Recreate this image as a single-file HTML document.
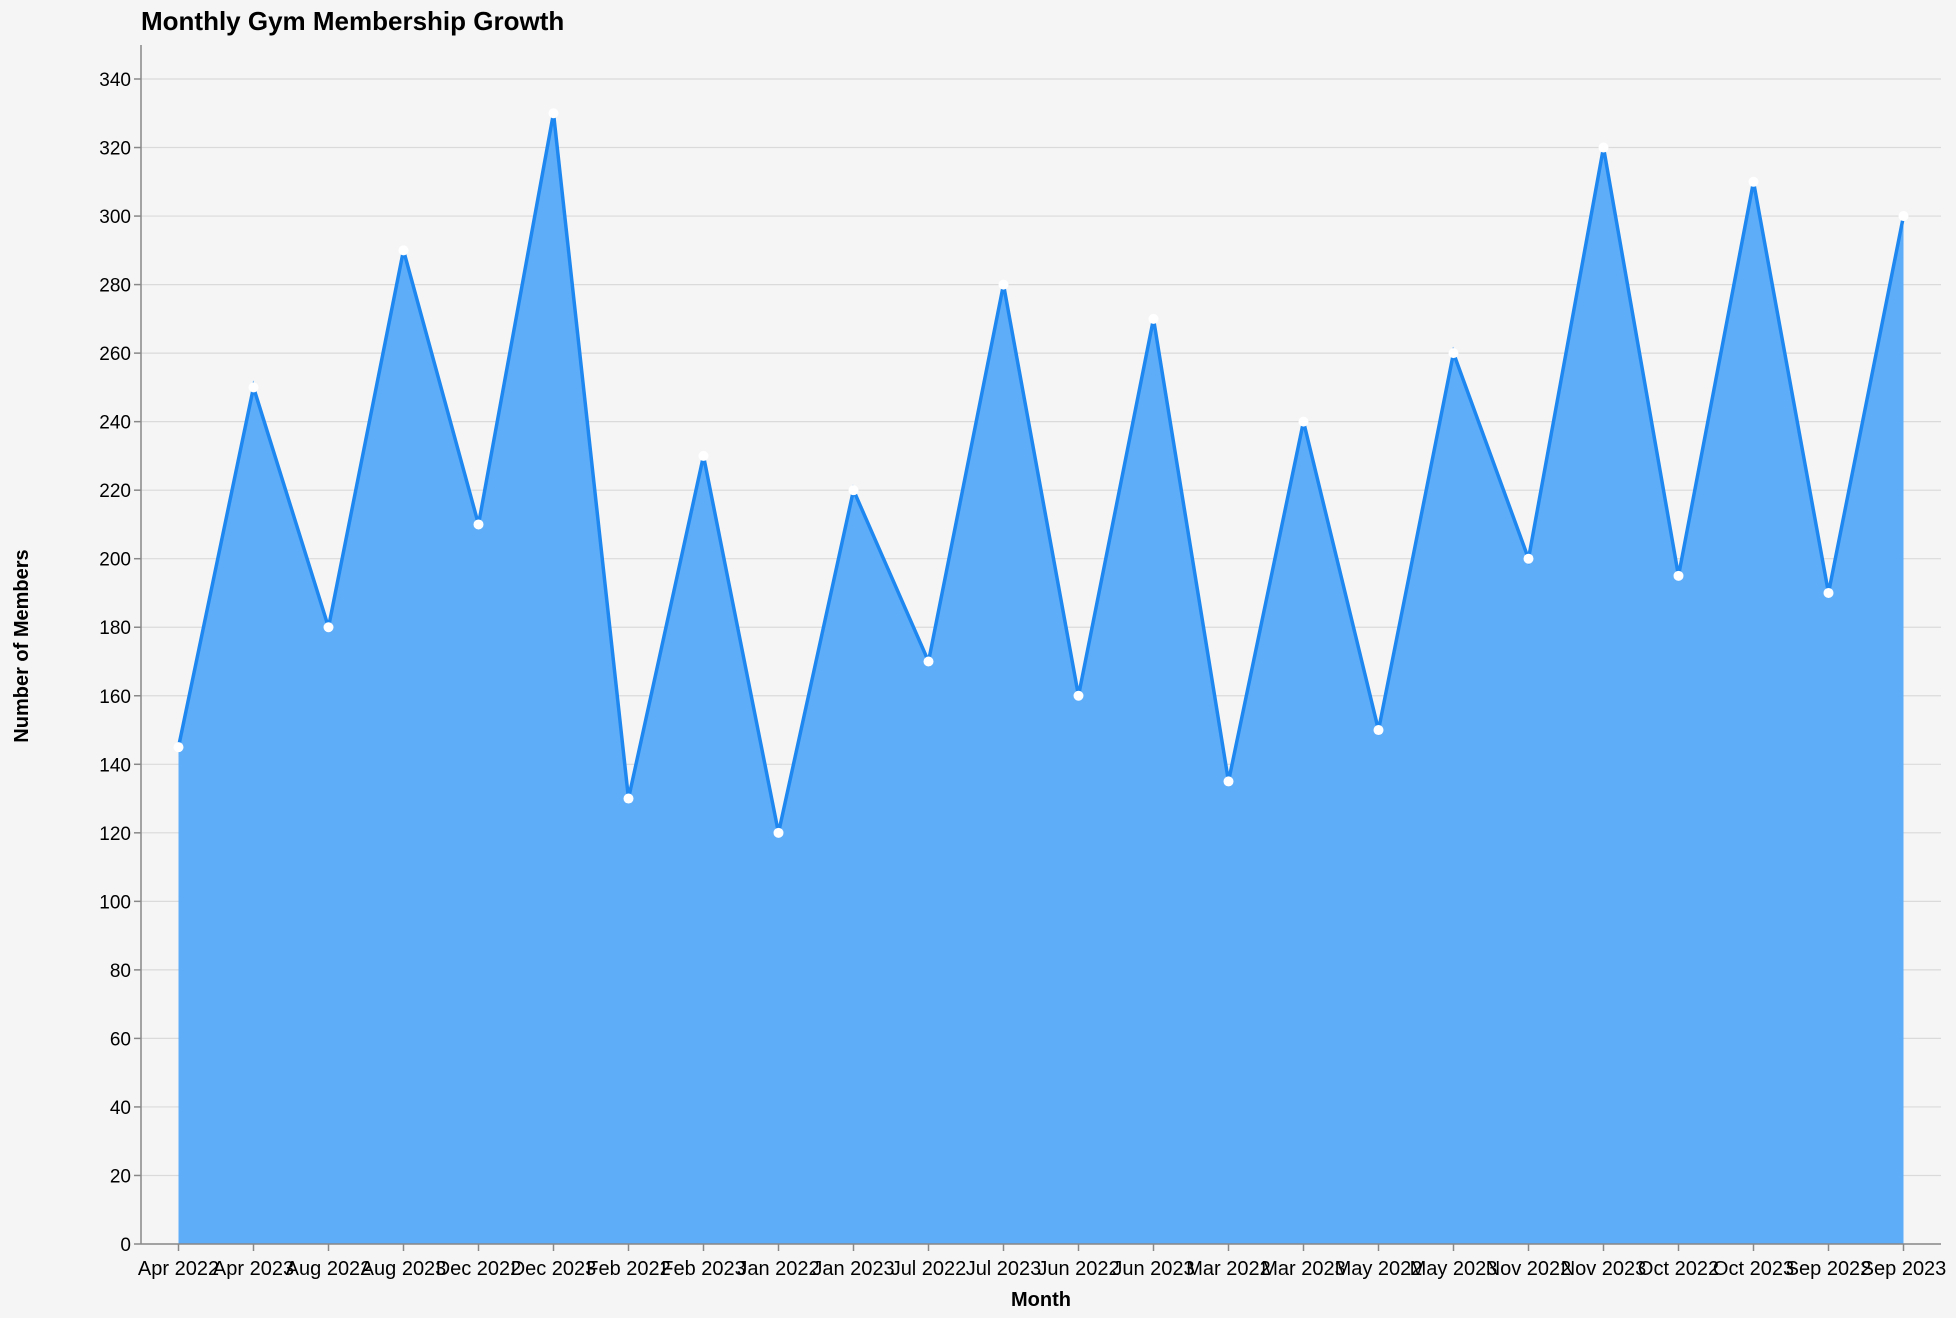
<!DOCTYPE html>
<html><head><meta charset="utf-8"><style>
html,body{margin:0;padding:0;background:#f5f5f5;}
svg{display:block;font-family:"Liberation Sans",Arial,sans-serif;}
</style></head><body>
<svg id="chart" width="1956" height="1318">
<rect width="1956" height="1318" fill="#f5f5f5"/>
<text x="141" y="30" font-size="26" font-weight="bold" fill="#000">Monthly Gym Membership Growth</text>
<g id="grid"></g><g id="area"></g><g id="axes"></g><g id="pts"></g>
<text x="1041" y="1306" font-size="20" font-weight="bold" text-anchor="middle">Month</text>
<text transform="translate(28,646) rotate(-90)" font-size="20" font-weight="bold" text-anchor="middle">Number of Members</text>
</svg>
<script>
const categories=["Apr 2022","Apr 2023","Aug 2022","Aug 2023","Dec 2022","Dec 2023","Feb 2022","Feb 2023","Jan 2022","Jan 2023","Jul 2022","Jul 2023","Jun 2022","Jun 2023","Mar 2022","Mar 2023","May 2022","May 2023","Nov 2022","Nov 2023","Oct 2022","Oct 2023","Sep 2022","Sep 2023"];
const members=[145,250,180,290,210,330,130,230,120,220,170,280,160,270,135,240,150,260,200,320,195,310,190,300];
const yTicks=[0,20,40,60,80,100,120,140,160,180,200,220,240,260,280,300,320,340];
const NS="http://www.w3.org/2000/svg";
const L=141,R=1941,T=45,B=1244,YMAX=340,YTOP=79;
const step=(R-L)/categories.length;
const x=i=>L+step*(i+0.5);
const y=v=>B-(B-YTOP)*v/YMAX;
function mk(tag,attrs,parent){const e=document.createElementNS(NS,tag);for(const k in attrs)e.setAttribute(k,attrs[k]);document.getElementById(parent).appendChild(e);return e;}
yTicks.forEach(t=>{
  const g=mk('line',{x1:L,x2:R,y1:y(t),y2:y(t),stroke:'#dadada','stroke-width':1.2},'grid');
  
  
  const tk=mk('line',{x1:L-7,x2:L,y1:y(t),y2:y(t),stroke:'#888','stroke-width':1.5},'axes');
  
  
  const tx=mk('text',{x:L-10,y:y(t)+7,'font-size':19,'text-anchor':'end',fill:'#000'},'axes');
  tx.textContent=t;
  
  
});
let d='M'+x(0)+','+y(0);
members.forEach((v,i)=>{d+=' L'+x(i)+','+y(v);});
d+=' L'+x(members.length-1)+','+y(0)+' Z';
const a=mk('path',{d:d,fill:'#5eadf9'},'area');


const ln=mk('path',{d:'M'+members.map((v,i)=>x(i)+','+y(v)).join(' L'),fill:'none',stroke:'#1e88f0','stroke-width':3.5},'area');


const ax=mk('line',{x1:L,x2:L,y1:T,y2:B,stroke:'#888','stroke-width':1.5},'axes');


const bx=mk('line',{x1:L,x2:R,y1:B,y2:B,stroke:'#888','stroke-width':1.5},'axes');


categories.forEach((c,i)=>{
  const tk=mk('line',{x1:x(i),x2:x(i),y1:B,y2:B+7,stroke:'#888','stroke-width':1.5},'axes');
  
  
  const tx=mk('text',{x:x(i),y:B+31,'font-size':20,'text-anchor':'middle',fill:'#000'},'axes');
  tx.textContent=c;
  
  
  const p=mk('circle',{cx:x(i),cy:y(members[i]),r:5,fill:'#fff'},'pts');
  
  
});
</script>
</body></html>
